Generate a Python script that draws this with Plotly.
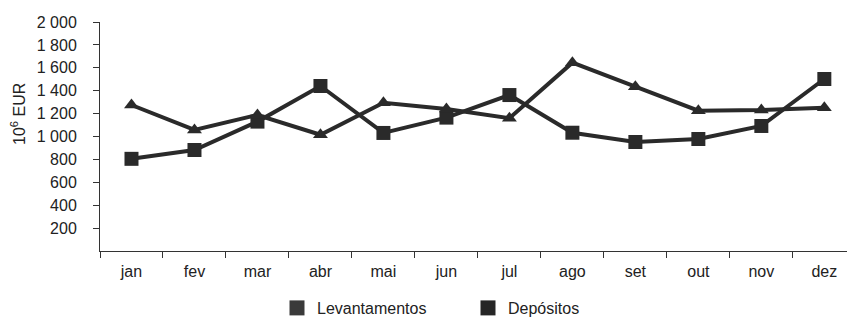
import plotly.graph_objects as go

months = ["jan", "fev", "mar", "abr", "mai", "jun", "jul", "ago", "set", "out", "nov", "dez"]
levantamentos = [805, 882, 1130, 1441, 1031, 1165, 1362, 1033, 952, 978, 1092, 1502]
depositos = [1275, 1057, 1188, 1015, 1295, 1240, 1160, 1645, 1435, 1225, 1232, 1252]

y_ticks = [200, 400, 600, 800, 1000, 1200, 1400, 1600, 1800, 2000]
y_ticktext = ["200", "400", "600", "800", "1 000", "1 200", "1 400", "1 600", "1 800", "2 000"]

line_color = "#2a2a2a"
font = dict(family="Liberation Sans, Arial, sans-serif", size=16, color="#222222")

fig = go.Figure()
fig.add_trace(go.Scatter(
    x=months, y=levantamentos, mode="lines+markers", showlegend=False,
    line=dict(color=line_color, width=4),
    marker=dict(symbol="square", size=14, color=line_color),
))
fig.add_trace(go.Scatter(
    x=months, y=depositos, mode="lines+markers", showlegend=False,
    line=dict(color=line_color, width=4),
    marker=dict(symbol="triangle-up", size=13, color=line_color),
))
# legend entries (square swatches only)
fig.add_trace(go.Scatter(
    x=[None], y=[None], mode="markers", name="Levantamentos",
    marker=dict(symbol="square", size=15, color="#3a3a3a"),
))
fig.add_trace(go.Scatter(
    x=[None], y=[None], mode="markers", name="Depósitos",
    marker=dict(symbol="square", size=15, color="#262626"),
))

fig.update_layout(
    width=847, height=320,
    margin=dict(l=100, r=0, t=22, b=69, autoexpand=False),
    paper_bgcolor="white", plot_bgcolor="white",
    font=font,
    legend=dict(
        orientation="h", x=(277 - 100) / 747, xanchor="left",
        y=(251 - 308) / 229, yanchor="middle",
        entrywidth=146, entrywidthmode="pixels",
        font=font, bgcolor="rgba(0,0,0,0)",
    ),
    annotations=[dict(
        text="10<sup>6</sup> EUR", textangle=-90, showarrow=False,
        xref="paper", yref="paper", x=-(100 - 18) / 747, y=(251 - 114) / 229,
        xanchor="center", yanchor="middle", font=font,
    )],
)
fig.update_xaxes(
    type="category", categoryorder="array", categoryarray=months,
    range=[-0.5, 11.36],
    showline=True, linecolor="#333333", linewidth=1,
    ticks="outside", ticklen=6, tickcolor="#333333", tickson="boundaries",
    ticklabelstandoff=6,
    showgrid=False, zeroline=False, tickfont=font,
)
fig.update_yaxes(
    range=[0, 2000], tickvals=y_ticks, ticktext=y_ticktext,
    showline=True, linecolor="#333333", linewidth=1,
    ticks="outside", ticklen=6, tickcolor="#333333",
    ticklabelstandoff=13,
    showgrid=False, zeroline=False, tickfont=font,
)

fig.write_html("out.html")
